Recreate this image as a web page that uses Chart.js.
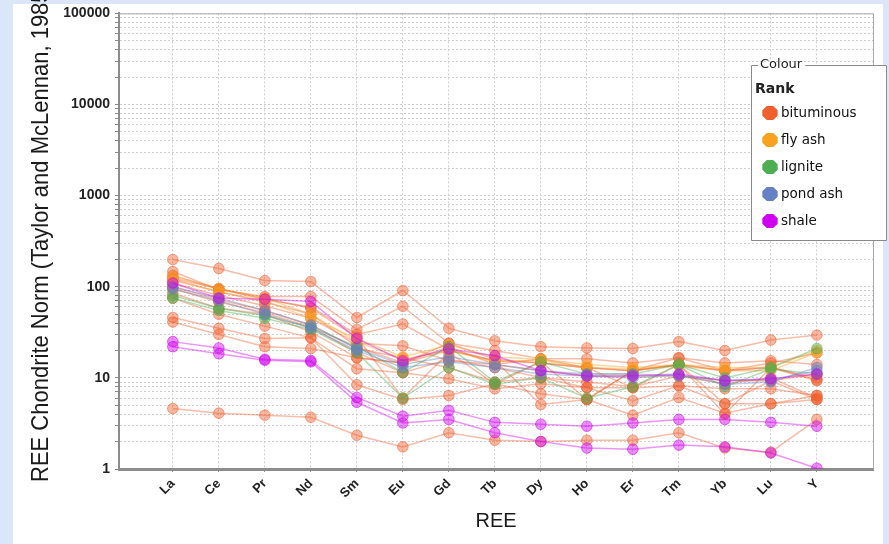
<!DOCTYPE html>
<html><head><meta charset="utf-8">
<script src="https://cdn.jsdelivr.net/npm/chart.js@4.4.1/dist/chart.umd.min.js"></script>
<style>html,body{margin:0;padding:0;background:#dce6f9;overflow:hidden}#wrap{width:889px;height:544px}</style>
</head><body><div id="wrap"><canvas id="c" width="889" height="544"></canvas></div>
<script>
// ---- data ----
const categories = ["La","Ce","Pr","Nd","Sm","Eu","Gd","Tb","Dy","Ho","Er","Tm","Yb","Lu","Y"];
const yTickLabels = ["1","10","100","1000","10000","100000"];
const rankNames = ["bituminous","fly ash","lignite","pond ash","shale"];

const bituminous1  = [199,159,117,114,46,91,35,25.5,22,21.3,21,25,20,26,29.5];
const bituminous2  = [147,93,78,78,34,61,24,20,16.2,16.2,14.6,16.6,14.6,15.4,14];
const bituminous3  = [133,95,72,60,30,39,20.5,15.4,14.6,12.9,12,14,12,12.9,9.3];
const bituminous4  = [124,95,75,58,28,6,19,8.6,15,5.8,12,14,12,13.2,9.5];
const bituminous5  = [110,80,62,45,24,22.5,15.4,14,12,10.5,10.5,10.5,9.3,9.3,11];
const bituminous6  = [100,72,55,38,21,16.6,12.9,9,10.1,7.8,7.8,8.2,7.6,7.6,6.4];
const bituminous7  = [85,58,50,32,16.6,14.6,24,16,14.6,12.9,12,16.6,12,14.6,18.8];
const bituminous8  = [75,50,37,27.5,12.6,11.4,9.8,7.6,8.6,7.8,5.6,8.2,5.2,5.2,6.4];
const bituminous9  = [46,35,27,27.5,8.4,5.8,6.4,8.6,6.7,5.8,3.9,6.1,4.1,5.2,5.8];
const bituminous10 = [41,30,22,21,16.6,14.6,20,15.4,5.1,5.8,12,14,4.0,13,10];
const bituminous11 = [4.6,4.1,3.9,3.7,2.35,1.75,2.5,2.07,2.0,2.07,2.07,2.5,1.7,1.53,3.5];
const bituminous12 = [95,68,52,36,19,11.4,16,12.9,10.1,9,8,10.5,8.6,10,6];
const bituminous13 = [120,88,68,50,22,14.6,22,14,16.2,12.9,7.8,14,5.2,9.3,5.8];
const flyAsh1  = [130,95,75,50,25,16,20,15,15.5,13,12.5,13.5,12,12,19];
const flyAsh2  = [118,88,70,45,27,17,23,17,16,14,13,14,13,13,20];
const lignite1 = [80,58,48,36,22,11.5,22,9,15,11,11,14,10,13,21];
const lignite2 = [75,55,45,34,19,6,13,8.5,10,6,8,14,8,12.5,11];
const pondAsh1 = [100,75,55,38,21,14,17,14,12,11,11,10.5,9.5,9.5,12];
const pondAsh2 = [95,70,50,35,20,13,15,13,11,10.5,10,10.8,8.5,9,13];
const shale1 = [25,21.3,16,15.5,6.1,3.8,4.4,3.25,3.1,2.95,3.2,3.5,3.5,3.25,2.95];
const shale2 = [22,18.4,15.6,15,5.4,3.2,3.5,2.5,2.0,1.7,1.65,1.83,1.75,1.5,1.02];
const shale3 = [110,75,73,69,27,15.4,20.8,17.5,12,10.5,10.5,11,9.3,9.8,11];

const seriesList = [
  ["shale",shale1],["shale",shale2],["shale",shale3],
  ["pond ash",pondAsh1],["pond ash",pondAsh2],
  ["lignite",lignite1],["lignite",lignite2],
  ["fly ash",flyAsh1],["fly ash",flyAsh2],
  ["bituminous",bituminous4],["bituminous",bituminous1],["bituminous",bituminous2],["bituminous",bituminous3],
  ["bituminous",bituminous5],["bituminous",bituminous6],["bituminous",bituminous7],["bituminous",bituminous8],
  ["bituminous",bituminous9],["bituminous",bituminous10],["bituminous",bituminous11],["bituminous",bituminous12],
  ["bituminous",bituminous13]
];

// ---- style ----
const rgb = {"bituminous":[240,96,47],"fly ash":[248,162,31],"lignite":[76,174,80],"pond ash":[101,129,198],"shale":[208,0,240]};
const rgba = (c,a)=>`rgba(${c[0]},${c[1]},${c[2]},${a})`;

const datasets = seriesList.map(([rank, vals]) => ({
  label: rank,
  data: vals.map((v,i)=>({x:i,y:v})),
  borderColor: rgba(rgb[rank],0.42),
  borderWidth: 1.5,
  backgroundColor: rgba(rgb[rank],0.45),
  pointBackgroundColor: rgba(rgb[rank],0.45),
  pointBorderColor: rgba(rgb[rank],0.55),
  pointBorderWidth: 1,
  pointRadius: 5.3,
  tension: 0
}));

const FONT = "'Liberation Sans', Arial, sans-serif";

const decor = {
  id: 'decor',
  beforeDraw(chart){
    const ctx = chart.ctx;
    ctx.save();
    ctx.fillStyle = '#dce6f9';
    ctx.fillRect(0,0,chart.width,chart.height);
    ctx.fillStyle = '#ffffff';
    ctx.fillRect(13,4,870,540);
    ctx.restore();
  },
  beforeDatasetsDraw(chart){
    const ctx = chart.ctx, a = chart.chartArea;
    ctx.save();
    ctx.strokeStyle = '#a8a8a8';
    ctx.lineWidth = 1;
    ctx.beginPath();
    ctx.moveTo(a.left, a.top+0.5); ctx.lineTo(a.right+0.5, a.top+0.5); ctx.lineTo(a.right+0.5, a.bottom);
    ctx.stroke();
    ctx.restore();
  },
  afterDraw(chart){
    const ctx = chart.ctx, a = chart.chartArea;
    ctx.save();
    // y title
    ctx.fillStyle = '#1a1a1a';
    ctx.translate(48, 482);
    ctx.rotate(-Math.PI/2);
    ctx.scale(1, 1.12);
    ctx.font = `22px ${FONT}`;
    ctx.textAlign = 'left';
    ctx.textBaseline = 'alphabetic';
    ctx.fillText('REE Chondrite Norm (Taylor and McLennan, 1985)', 0, 0);
    ctx.restore();
    // x title
    ctx.save();
    ctx.fillStyle = '#1a1a1a';
    ctx.font = `20px ${FONT}`;
    ctx.textAlign = 'center';
    ctx.textBaseline = 'middle';
    ctx.fillText('REE', (a.left + a.right)/2, 521);
    ctx.restore();
    // legend
    ctx.save();
    const L = 751, T = 65, R = 886, B = 240;
    ctx.fillStyle = '#ffffff';
    ctx.fillRect(L, T, R-L, B-T);
    ctx.font = `13px 'DejaVu Sans', sans-serif`;
    const tw = ctx.measureText('Colour').width;
    ctx.strokeStyle = '#8a8a8a';
    ctx.lineWidth = 1;
    ctx.beginPath();
    ctx.moveTo(L+7, T+0.5); ctx.lineTo(L+0.5, T+0.5); ctx.lineTo(L+0.5, B+0.5); ctx.lineTo(R+0.5, B+0.5); ctx.lineTo(R+0.5, T+0.5); ctx.lineTo(L+10+tw+2, T+0.5);
    ctx.stroke();
    ctx.fillStyle = '#222';
    ctx.textBaseline = 'middle';
    ctx.textAlign = 'left';
    ctx.fillText('Colour', L+9, T);
    ctx.font = `bold 14px 'DejaVu Sans', sans-serif`;
    ctx.fillText('Rank', L+4, T+24);
    ctx.font = `13.5px 'DejaVu Sans', sans-serif`;
    rankNames.forEach((n, i) => {
      const cy = 113 + i*27, cx = 770;
      ctx.beginPath();
      for (let k=0;k<8;k++){
        const ang = Math.PI/8 + k*Math.PI/4;
        const px = cx + 8.3*Math.cos(ang), py = cy + 7.5*Math.sin(ang);
        if (k===0) ctx.moveTo(px,py); else ctx.lineTo(px,py);
      }
      ctx.closePath();
      ctx.fillStyle = rgba(rgb[n],1);
      ctx.fill();
      ctx.fillStyle = '#111';
      ctx.fillText(n, 781, cy);
    });
    ctx.restore();
  }
};

new Chart(document.getElementById('c'), {
  type: 'line',
  data: { datasets },
  options: {
    responsive: false,
    animation: false,
    devicePixelRatio: 1,
    layout: { padding: { left: 0, top: 10, right: 16, bottom: 0 } },
    plugins: { legend: { display: false }, tooltip: { enabled: false } },
    scales: {
      x: {
        type: 'linear',
        min: -1.17, max: 15.22,
        afterBuildTicks(s){ s.ticks = categories.map((c,i)=>({value:i})); },
        afterFit(s){ s.height = 75; },
        ticks: {
          autoSkip: false, minRotation: 45, maxRotation: 45,
          callback: (v) => categories[v] ?? '',
          font: { family: FONT, size: 13, weight: 'bold' },
          color: '#222', padding: 4
        },
        grid: { color: '#cfcfcf', tickLength: 3, tickColor: '#888' },
        border: { display: true, color: '#8c8c8c', width: 3, dash: [2,2] }
      },
      y: {
        type: 'logarithmic',
        min: 1, max: 100000,
        afterBuildTicks(s){
          const t = [];
          for (let e=0;e<5;e++) for (let m=1;m<10;m++) t.push({value: m*Math.pow(10,e)});
          t.push({value:100000});
          s.ticks = t;
        },
        afterFit(s){ s.width = 119; },
        ticks: {
          autoSkip: false,
          callback: (v) => yTickLabels.includes(String(v)) ? String(v) : '',
          font: { family: FONT, size: 14, weight: 'bold' },
          color: '#222', padding: 5
        },
        grid: { color: '#cfcfcf', tickLength: 4, tickColor: '#888' },
        border: { display: true, color: '#8c8c8c', width: 2, dash: [2,2] }
      }
    }
  },
  plugins: [decor]
});
</script>
</body></html>
